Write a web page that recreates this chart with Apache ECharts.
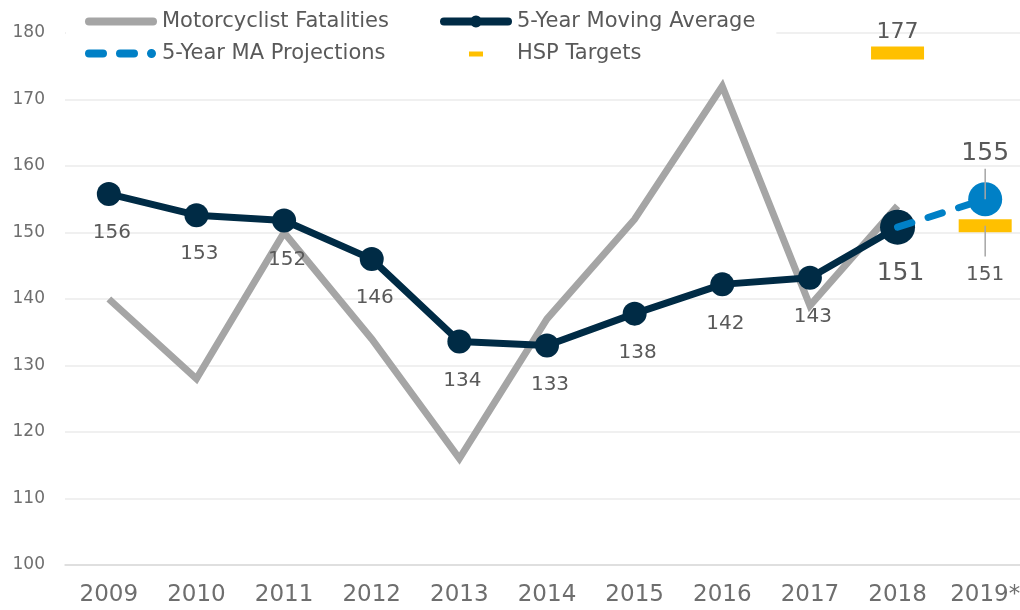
<!DOCTYPE html>
<html>
<head>
<meta charset="utf-8">
<script src="https://cdn.jsdelivr.net/npm/echarts@6/dist/echarts.min.js"></script>
<style>html,body{margin:0;padding:0;background:#fff}#chart{width:1020px;height:610px}</style>
</head>
<body>
<div id="chart"></div>
<script>
const years = ['2009','2010','2011','2012','2013','2014','2015','2016','2017','2018','2019*'];
const fatalities = [140,128,150,134,116,137,152,172,139,154,null];
const movingAvg = [155.8,152.6,151.8,146.0,133.6,133.0,137.8,142.2,143.2,150.8,null];
const projections = [null,null,null,null,null,null,null,null,null,150.8,155.0];
const hspTargets = ['-','-','-','-','-','-','-','-','-',177,151];
const yTicks = {min:100, max:180, interval:10};

const FONT = 'DejaVu Sans';
const GREY = '#A5A5A5', NAVY = '#002B45', BLUE = '#0080C6', GOLD = '#FFC000';
const TXT = '#595959';

const chart = echarts.init(document.getElementById('chart'), null, {renderer:'canvas'});

const iconLine = 'path://M0,0M72,14M4,3L68,3A4,4,0,0,1,68,11L4,11A4,4,0,0,1,4,3Z';
const iconMA = 'path://M0,0M72,14M4,3L68,3A4,4,0,0,1,68,11L4,11A4,4,0,0,1,4,3Z M30,7A6,6,0,1,1,42,7A6,6,0,1,1,30,7Z';
const iconDash = 'path://M0,0M72,14M4,3L18,3A4,4,0,0,1,18,11L4,11A4,4,0,0,1,4,3Z M35,3L49,3A4,4,0,0,1,49,11L35,11A4,4,0,0,1,35,3Z M62,7A4.5,4.5,0,1,1,71,7A4.5,4.5,0,1,1,62,7Z';
const iconTarget = 'path://M0,0M72,14M29,5L43,5L43,10L29,10Z';

function legendCol(items, left, padding){
  return {
    orient:'vertical', left:left, top:7, padding:padding,
    backgroundColor:'#ffffff',
    itemWidth:72, itemHeight:14, itemGap:11,
    selectedMode:false,
    textStyle:{fontFamily:FONT, fontSize:21, lineHeight:21, color:TXT},
    data:items.map(it=>({name:it[0], icon:it[1], itemStyle:{color:it[2], borderWidth:0, opacity:1}}))
  };
}

const lastIdx = years.length - 1;
const maData = movingAvg.map((v,i)=> i===lastIdx-1 ? {value:v, symbolSize:35, label:{fontSize:25, distance:16}} : v);
const projData = projections.map((v,i)=> {
  if (i===lastIdx-1) return {value:v, symbol:'none'};
  if (i===lastIdx) return {value:v, symbolSize:34, label:{show:true, position:'top', distance:16, fontSize:25, color:TXT, fontFamily:FONT, formatter:p=>Math.round(p.value)}};
  return v;
});
const hspData = hspTargets.map((v,i)=>{
  if (i===lastIdx-1) return {value:v, label:{show:true, position:'top', distance:3, fontSize:22}};
  if (i===lastIdx) return {value:v, label:{show:true, position:'bottom', distance:32, fontSize:20}};
  return v;
});
// leader lines built from the values they point at
const projLeader = [[lastIdx, projections[lastIdx]], [lastIdx, projections[lastIdx] + 4.6]];
const hspLeader = [[lastIdx, hspTargets[lastIdx]], [lastIdx, hspTargets[lastIdx] - 4.6]];

const option = {
  animation:false,
  backgroundColor:'#fff',
  textStyle:{fontFamily:FONT},
  legend:[
    legendCol([['Motorcyclist Fatalities', iconLine, GREY], ['5-Year MA Projections', iconDash, BLUE]], 66, [4,51,4,19]),
    legendCol([['5-Year Moving Average', iconMA, NAVY], ['HSP Targets', iconTarget, GOLD]], 440, [4,21,4,0])
  ],
  grid:{left:65, right:-9, top:33, bottom:45, containLabel:false, outerBoundsMode:'none'},
  xAxis:{
    type:'category', data:years, boundaryGap:true,
    axisLine:{show:true, lineStyle:{color:'#D9D9D9', width:1.5}},
    axisTick:{show:false},
    axisLabel:{fontFamily:FONT, fontSize:23, color:'#6E6E6E', margin:19, interval:0}
  },
  yAxis:{
    type:'value', min:yTicks.min, max:yTicks.max, interval:yTicks.interval,
    axisLine:{show:false}, axisTick:{show:false},
    splitLine:{lineStyle:{color:'#EBEBEB', width:1.5}},
    axisLabel:{fontFamily:FONT, fontSize:17, color:'#6E6E6E', margin:20}
  },
  series:[
    {
      name:'Motorcyclist Fatalities', type:'line', data:fatalities,
      symbol:'none', z:1,
      lineStyle:{width:7, color:GREY, join:'miter'}, itemStyle:{color:GREY}
    },
    {
      name:'HSP Targets', type:'scatter', data:hspData, z:2,
      symbol:'rect', symbolSize:[53,13], itemStyle:{color:GOLD, opacity:1},
      label:{show:false, color:TXT, fontFamily:FONT, formatter:p=>Math.round(p.value)}
    },
    {
      name:'hspLeader', type:'line', data:hspLeader, z:2.5, symbol:'none', silent:true,
      lineStyle:{width:1.5, color:GREY}
    },
    {
      name:'5-Year Moving Average', type:'line', data:maData, z:3,
      symbol:'circle', symbolSize:24,
      lineStyle:{width:7, color:NAVY}, itemStyle:{color:NAVY},
      label:{show:true, position:'bottom', distance:17, fontSize:20, color:TXT, fontFamily:FONT, offset:[3,0], formatter:p=>Math.round(p.value)}
    },
    {
      name:'5-Year MA Projections', type:'line', data:projData, z:4,
      symbol:'circle', symbolSize:34, showAllSymbol:true,
      lineStyle:{width:7, color:BLUE, type:[15,17], cap:'round'}, itemStyle:{color:BLUE}
    },
    {
      name:'projLeader', type:'line', data:projLeader, z:5, symbol:'none', silent:true,
      lineStyle:{width:1.5, color:GREY}
    }
  ]
};
chart.setOption(option);
</script>
</body>
</html>
